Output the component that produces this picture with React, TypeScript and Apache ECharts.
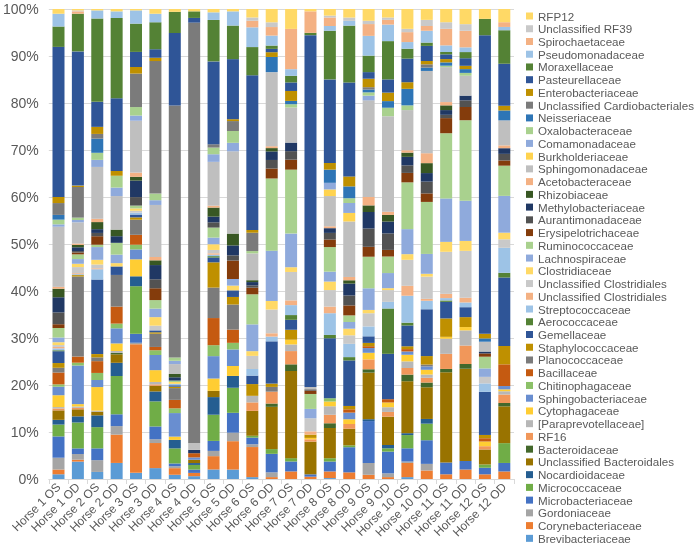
import React, { useEffect, useRef } from "react";
import * as echarts from "echarts";

const categories = [
  "Horse 1 OS", "Horse 1 OD", "Horse 2 OS", "Horse 2 OD", "Horse 3 OS", "Horse 3 OD",
  "Horse 4 OS", "Horse 4 OD", "Horse 5 OS", "Horse 5 OD", "Horse 6 OS", "Horse 6 OD",
  "Horse 7 OS", "Horse 7 OD", "Horse 8 OS", "Horse 8 OD", "Horse 9 OS", "Horse 9 OD",
  "Horse 10 OS", "Horse 10 OD", "Horse 11 OS", "Horse 11 OD", "Horse 12 OS", "Horse 12 OD",
];

// bottom-to-top stacking order
const families = [
  "Brevibacteriaceae", "Corynebacteriaceae", "Gordoniaceae", "Microbacteriaceae", "Micrococcaceae",
  "Nocardioidaceae", "Unclassified Bacteroidales", "Bacteroidaceae", "RF16", "[Paraprevotellaceae]",
  "Cytophagaceae", "Sphingobacteriaceae", "Chitinophagaceae", "Bacillaceae", "Planococcaceae",
  "Staphylococcaceae", "Gemellaceae", "Aerococcaceae", "Streptococcaceae", "Unclassified Clostridiales ",
  "Unclassified Clostridiales", "Clostridiaceae", "Lachnospiraceae", "Ruminococcaceae", "Erysipelotrichaceae",
  "Aurantimonadaceae", "Methylobacteriaceae", "Rhizobiaceae", "Acetobacteraceae", "Sphingomonadaceae",
  "Burkholderiaceae", "Comamonadaceae", "Oxalobacteraceae", "Neisseriaceae", "Unclassified Cardiobacteriales",
  "Enterobacteriaceae", "Pasteurellaceae", "Moraxellaceae", "Pseudomonadaceae", "Spirochaetaceae",
  "Unclassified RF39", "RFP12",
];

const colors = [
  "#5B9BD5", "#ED7D31", "#A5A5A5", "#4472C4", "#70AD47",
  "#255E91", "#997300", "#43682B", "#F1975A", "#B7B7B7",
  "#FFCD33", "#698ED0", "#8CC168", "#C55A11", "#7B7B7B",
  "#BF9000", "#2F5597", "#548235", "#9DC3E6", "#F4B183",
  "#C9C9C9", "#FFD966", "#8FAADC", "#A9D18E", "#843C0C",
  "#525252", "#203864", "#385723", "#F4B183", "#BFBFBF",
  "#FFD34F", "#8FAADC", "#A9D18E", "#2E75B6", "#7B7B7B",
  "#BF9000", "#2F5597", "#548235", "#9DC3E6", "#F4B183",
  "#C9C9C9", "#FFD966",
];

// relative abundance (%) per sample, in the stacking order above
const horse1OS = [1,1,2.5,4.5,2.5,1,2,0,0.4,0.3, 2.5,1.8,0.5,2.5,1,1,2.5,0.2,0.4,0.3, 0.4,0.6,1,2,0.8,2.5,3.2,1.8,0.4,12.7, 0,0.5,1,1,2.5,1.3,31.7,4.3,2.7,0, 0,1];
const horse1OD = [3.7,0.4,1.2,1.2,5.5,1.3,1.5,0,0.3,0.3, 0.5,8.2,0.6,1.3,17,0.3,0,0,0.2,0.2, 1.3,0.7,1,1,0.4,0.3,0.8,0.5,0.3,4.5, 0,0.5,0.5,0,6.5,0.3,28.5,8,0,0.5, 0.2,0.3];
const horse2OS = [1.5,0,2.5,2.5,4.5,2.5,0.8,0,0,0.2, 5,1.5,1.5,2.5,0.8,0.7,15.8,0,2.2,0.2, 0.8,1,2.7,0.5,1.8,0.7,0.8,1.5,0.7,11, 0,1.5,1.5,3,1,1.5,5.3,17.7,1.7,0, 0,0.3];
const horse2OD = [3.4,6,1.8,2.5,8.1,2.8,1.8,0.3,0,0.4, 1.6,3.2,1,3.6,6.7,0,1.8,0,0,0, 0,0.7,1.8,2.5,0,0,1.4,1.4,0,7.1, 0,1.8,2.5,0,0,1,15.4,17,1.4,0, 0,0.5];
const horse3OS = [1.3,27.3,0.3,1.9,10.1,2.1,0,0,0,0, 3.6,2.1,1,2.1,3.2,0.5,0.6,0,0.4,0, 0.4,0.5,0,0.6,0,1.8,3.5,0.8,0.9,11, 0,1.1,1.8,0,7.1,1.4,3.2,6,2.8,0, 0,0.3];
const horse3OD = [2.3,5.3,0.8,2.7,5.3,2.1,1.2,0,0.3,0.5, 2.5,3.2,1,0.7,2.8,0.3,0.4,0,0,0, 1,1.8,1.8,1.8,2.5,1.9,3,1,0.7,11, 0,1,1.4,0,28,0.7,1.8,5.7,1.8,0, 0,1];
const horse4OS = [0.9,1.4,0.4,0.6,3.2,1.8,0,0,0,0, 0.7,5,1,1.8,2.5,0.3,0.3,0,0.3,0, 0,0.4,0,0.3,0,0,0.7,0.7,0,2.1, 0,0.7,0.7,0,53.5,0,15.4,4.5,0,0, 0,0.6];
const horse4OD = [0.6,0.7,0,0.7,1,0.4,0.7,0,0,0, 0,0.5,0,0.9,0,0,0,0,0,0, 0,0,0,0,0,0,0.7,0,0,1.4, 0,0,0,0,89.7,0,1,1.4,0,0, 0,0.5];
const horse5OS = [2,2.8,1.1,2.1,5.5,3.7,1.3,0,0,0, 2.6,4.7,2.3,5.7,6.4,5.3,1,0.3,0.3,0.3, 0.7,1.2,1.4,2.1,0,1.1,1.2,1.9,0.4,9.2, 0,1.6,1.4,0,0.7,0,17.4,8.7,1.6,0, 0,0.7];
const horse5OD = [2,6,1.8,4.2,5.3,2.5,0,0,0,0, 2.1,3.5,1.4,2.8,5.3,1.6,1.4,0,0,0, 0,1,1.4,0,3.9,1.1,2.1,2.5,0,17.4, 0,1.8,2.5,0,2.1,0.4,12.7,7.1,3,0, 0,0.5];
const horse6OS = [0.4,6.4,0.6,1.4,0.4,0,5.3,0,1.8,1.4, 0,0,0,0,0,2.5,1.8,0,1.4,0, 2.8,1,5.7,6.4,1.4,0.5,0.7,0.4,0,5.7, 0,0,0.5,0,3.9,0.6,32.9,6,4.2,1.4, 0.7,1.8];
const horse6OD = [0,0.4,1,3.9,1,0,8.9,0.7,2.5,0, 0,0,0,0,1,0.7,8.9,0,1,0.7, 5,1.8,10.6,15.2,2.1,1.8,1.8,0.7,0.4,15.6, 0,0,0,3.2,0,1,0.7,0.7,2.1,1.8, 1,2.8];
const horse7OS = [0,1.6,0,2.1,0.7,0,18.4,1.4,2.8,1.4, 1,0,0,0,0,2.1,2.1,1,2.1,1, 6,1,7.1,13.5,2.1,1.8,1.8,0,0,7.4, 0,0,0.7,0.7,0,2.1,1.8,1.4,1.4,8.5, 0,4.2];
const horse7OD = [0,0.5,0,0.5,0,0,7,0,0.5,0, 0.3,0,0,0,0,0.7,0,0,0,0.7, 2.8,0,2,3.2,0.7,0.3,0,0,0,0.5, 0,0,0,0,0,0,75.3,0.5,0,4.6, 0,0.5];
const horse8OS = [0.2,1.4,0,2.1,0.7,0,6.4,1,1.8,1.8, 1,0,0.7,0,0,0,12.7,0.7,4.6,1.4, 3.5,1.8,2.1,5.2,1.6,1.4,1,0,0.4,6.4, 1.4,1.4,0,2.8,0,1.4,17.7,10.3,1,1.8, 0.4,1.4];
const horse8OD = [0,1.4,0,5.3,0.4,0,3.5,0,1,0, 1,1.4,0,0.7,0,0.7,9.6,0.7,2.8,0, 1.8,1.4,1.4,1.4,2.1,2.1,2.5,0.7,0.7,11.7, 1.8,2.1,1,2.5,0,2.1,19.8,12,1,0, 0.7,1.8];
const horse9OS = [0,0.9,2.5,8.9,0,0.4,9.9,0.7,2.1,0, 1.4,1,0,0.4,0,0.7,1.4,0,2.1,0, 2.8,0.7,4.6,6.7,2.1,3.9,3.5,1.4,1.8,20.5, 0,1,0.7,0.6,0.5,1.8,1.4,3.5,4.2,2.5, 0.7,2.5];
const horse9OD = [0,0.4,0.8,4.6,0.7,0.7,6,0,1,1, 1,0,0,0.7,0,0,9.6,9.6,1.4,0, 2.5,0.4,3.2,3.5,1.4,3.5,2.5,1.4,0.7,20.2, 0,0,1.8,1.4,0,1.8,2.8,8.1,3.5,1, 0.5,1.8];
const horse10OS = [0.4,3,0.3,2.8,2.8,0.4,11,1.4,1.4,1.4, 1.4,0.7,0,0.5,0,0.6,4.4,0.6,5.7,2.1, 5.5,1.2,5.3,9.9,2,1.6,1.8,0.9,0.5,8.5, 0,0,1,3.5,0,1.4,5,2.1,1.4,2.1, 0.7,4.2];
const horse10OD = [0,1.8,1.4,5,3.5,1,6.7,1,1,0.7, 1,0.7,0,0,0.4,1.8,9.9,0,1.8,0.4, 4.7,0.6,4.2,11,1.8,2.5,1.8,2.1,2.1,17.4, 0,0,0,0.7,0.7,0.7,3.2,0.7,2.5,1, 1.3,2.3];
const horse11OS = [0,1,0,2.5,0,0,19.1,0.7,3.2,3.2, 0.4,0,0,0,0,3.9,3.5,0.3,0.5,0.9, 8.9,2.1,9.2,13.8,3.2,0.7,1,1,0.7,7.4, 0,0,0.3,0.7,0,0.7,1,0.5,1.4,3.5, 1.4,2.8];
const horse11OD = [0,2,0,1.8,0,0,19.5,1,3.9,3.2, 0.7,0,0,0,0,2.1,2.1,0,1,1, 9.9,2.1,8.5,17,2.8,1.4,1,0,0,4.2, 0,0,0.6,0.8,0,0.7,1.6,1.3,1,3.5, 1.4,3.2];
const horse12OS = [0,1,0,1.4,0.7,0,3.2,0,0.7,0, 1,0,0,0.7,0,0.7,9.2,0,1.8,0, 1.4,0,1.8,2.5,0.7,0,0.4,0,0,2.1, 0,0,0,0.7,0,1,63.7,3.5,0,0, 0,2.1];
const horse12OD = [0,1.6,0,1.8,4.2,0,7.8,0.7,1.8,0.7, 0.4,0.7,0,4.6,0,3.9,14.5,1,5.3,0, 1.8,1.4,7.8,6.4,1.1,1.4,1.2,0,0.6,5.3, 0,0,0,2.1,0,1,8.9,7.1,0.7,1, 0,2.8];

const samples = [
  horse1OS, horse1OD, horse2OS, horse2OD, horse3OS, horse3OD, horse4OS, horse4OD,
  horse5OS, horse5OD, horse6OS, horse6OD, horse7OS, horse7OD, horse8OS, horse8OD,
  horse9OS, horse9OD, horse10OS, horse10OD, horse11OS, horse11OD, horse12OS, horse12OD,
];

const yTicks = { min: 0, max: 100, interval: 10 };

export default function App() {
  const ref = useRef<HTMLDivElement>(null);
  useEffect(() => {
    if (!ref.current) return;
    const chart = echarts.init(ref.current, null, { renderer: "svg" });
    const totals = samples.map((s) => s.reduce((a, v) => a + v, 0));
    const series = families.map((name, i) => ({
      name,
      type: "bar",
      stack: "total",
      barWidth: 12,
      data: samples.map((s, j) => (s[i] / totals[j]) * 100),
      itemStyle: { color: colors[i] },
      emphasis: { disabled: true },
    }));
    const font = "'Liberation Sans', Arial, sans-serif";
    chart.setOption({
      animation: false,
      textStyle: { fontFamily: font },
      grid: { left: 48, right: 185, top: 9, bottom: 71 },
      legend: {
        orient: "vertical",
        left: 521,
        top: 5,
        bottom: 0,
        icon: "rect",
        itemWidth: 7,
        itemHeight: 7,
        itemGap: 0.74,
        data: families.slice().reverse(),
        formatter: (n: string) => n.trim(),
        textStyle: { fontSize: 11.6, lineHeight: 12, color: "#595959", fontFamily: font },
        selectedMode: false,
      },
      xAxis: {
        type: "category",
        data: categories,
        axisLine: { lineStyle: { color: "#D9D9D9" } },
        axisTick: { show: true, length: 5, lineStyle: { color: "#D9D9D9" } },
        axisLabel: { rotate: 45, fontSize: 12, color: "#595959", margin: 6, interval: 0, fontFamily: font },
      },
      yAxis: {
        type: "value",
        min: yTicks.min,
        max: yTicks.max,
        interval: yTicks.interval,
        axisLine: { show: false },
        axisTick: { show: false },
        splitLine: { lineStyle: { color: "#D9D9D9" } },
        axisLabel: { formatter: "{value}%", fontSize: 14, color: "#595959", margin: 10, fontFamily: font },
      },
      series,
    });
    return () => chart.dispose();
  }, []);
  return <div ref={ref} style={{ position: "fixed", left: 0, top: 0, width: 699, height: 550 }} />;
}
